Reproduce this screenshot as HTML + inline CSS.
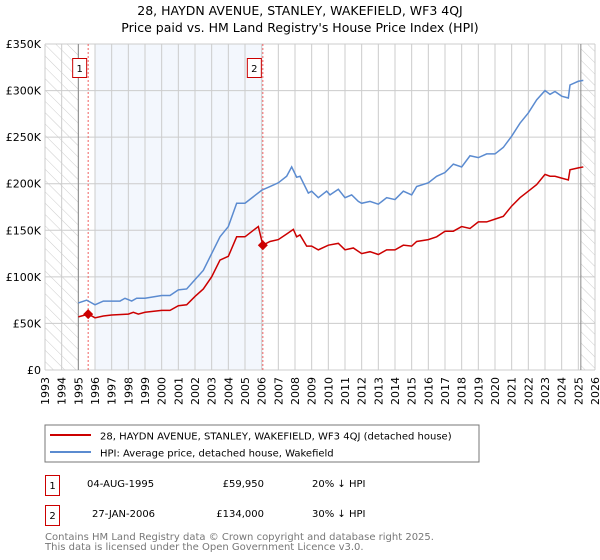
<!DOCTYPE html>
<html><head><meta charset="utf-8"><style>
body{margin:0;background:#fff;font-family:"DejaVu Sans","Liberation Sans",sans-serif;}
svg{display:block}
</style></head><body>
<svg id="c" width="600" height="560" font-family="DejaVu Sans, Liberation Sans, sans-serif">
<defs><pattern id="hatch" width="8" height="8" patternUnits="userSpaceOnUse" patternTransform="rotate(-45)"><line x1="0" y1="0" x2="0" y2="8" stroke="#ccc" stroke-width="1"/></pattern></defs>
<text x="300" y="15" text-anchor="middle" font-size="12.5" fill="#000">28, HAYDN AVENUE, STANLEY, WAKEFIELD, WF3 4QJ</text>
<text x="300" y="32" text-anchor="middle" font-size="12.5" fill="#000">Price paid vs. HM Land Registry's House Price Index (HPI)</text>
<g id="plot"></g>
<rect x="45" y="425" width="434" height="37" fill="#fff" stroke="#777"/>
<line x1="50" y1="435" x2="91" y2="435" stroke="#cc0000" stroke-width="2"/>
<text x="100" y="439.5" font-size="10">28, HAYDN AVENUE, STANLEY, WAKEFIELD, WF3 4QJ (detached house)</text>
<line x1="50" y1="452" x2="91" y2="452" stroke="#5b8bd0" stroke-width="2"/>
<text x="100" y="456.5" font-size="10">HPI: Average price, detached house, Wakefield</text>
<rect x="45.5" y="475.5" width="14" height="20" fill="#fff" stroke="#cc0000"/>
<text x="52.5" y="489" font-size="10" text-anchor="middle">1</text>
<text x="87" y="487" font-size="10">04-AUG-1995</text>
<text x="264" y="487" font-size="10" text-anchor="end">£59,950</text>
<text x="312" y="487" font-size="10">20% ↓ HPI</text>
<rect x="45.5" y="505.5" width="14" height="20" fill="#fff" stroke="#cc0000"/>
<text x="52.5" y="519" font-size="10" text-anchor="middle">2</text>
<text x="92" y="517" font-size="10">27-JAN-2006</text>
<text x="264" y="517" font-size="10" text-anchor="end">£134,000</text>
<text x="312" y="517" font-size="10">30% ↓ HPI</text>
<text x="45" y="540" font-size="10" fill="#777">Contains HM Land Registry data © Crown copyright and database right 2025.</text>
<text x="45" y="550" font-size="10" fill="#777">This data is licensed under the Open Government Licence v3.0.</text>
</svg>
<script>
const yTicks=[0,50,100,150,200,250,300,350];
const yTickLabels=["£0","£50K","£100K","£150K","£200K","£250K","£300K","£350K"];
const xYears=[1993,1994,1995,1996,1997,1998,1999,2000,2001,2002,2003,2004,2005,2006,2007,2008,2009,2010,2011,2012,2013,2014,2015,2016,2017,2018,2019,2020,2021,2022,2023,2024,2025,2026];
const hpiT=[1995.0,1995.5,1996.0,1996.5,1997.5,1997.8,1998.2,1998.5,1999,2000,2000.5,2001,2001.5,2002,2002.5,2003,2003.5,2004,2004.5,2005,2005.5,2006,2006.5,2007,2007.5,2007.8,2008.1,2008.3,2008.8,2009,2009.4,2009.9,2010.1,2010.6,2011,2011.4,2011.8,2012,2012.5,2013,2013.5,2014,2014.5,2015,2015.3,2016,2016.5,2017,2017.5,2018,2018.5,2019,2019.5,2020,2020.5,2021,2021.5,2022,2022.5,2023,2023.3,2023.6,2024,2024.4,2024.5,2025,2025.3];
const hpiV=[72,75,70,74,74,77,74,77,77,80,80,86,87,97,107,125,143,154,179,179,186,193,197,201,208,218,207,208,190,192,185,192,188,194,185,188,181,179,181,178,185,183,192,188,197,201,208,212,221,218,230,228,232,232,239,251,265,276,290,300,296,299,294,292,306,310,311];
const propT=[1995.0,1995.6,1996.0,1996.5,1997,1998,1998.3,1998.6,1999,2000,2000.5,2001,2001.5,2002,2002.5,2003,2003.5,2004,2004.5,2005,2005.5,2005.8,2006.07,2006.5,2007,2007.5,2007.9,2008.1,2008.3,2008.7,2009,2009.4,2010,2010.6,2011,2011.5,2012,2012.5,2013,2013.5,2014,2014.5,2015,2015.3,2016,2016.5,2017,2017.5,2018,2018.5,2019,2019.5,2020,2020.5,2021,2021.5,2022,2022.5,2023,2023.3,2023.6,2024,2024.4,2024.5,2025,2025.3];
const propV=[57,60,56,58,59,60,62,60,62,64,64,69,70,79,87,100,118,122,143,143,150,154,134,138,140,146,151,143,145,133,133,129,134,136,129,131,125,127,124,129,129,134,133,138,140,143,149,149,154,152,159,159,162,165,176,185,192,199,210,208,208,206,204,215,217,218];
const saleT=[1995.59,2006.07];
const saleV=[59.95,134];
const x0=45,x1=595,yTop=44,yBot=370;
function xs(t){return x0+(t-1993)/(2026-1993)*(x1-x0);}
function ys(v){return yBot-v/350*(yBot-yTop);}
const NS="http://www.w3.org/2000/svg";
const g=document.getElementById('plot');
function mk(tag,attrs,parent){const e=document.createElementNS(NS,tag);for(const k in attrs)e.setAttribute(k,attrs[k]);(parent||g).appendChild(e);return e;}
let e;
e=mk('rect',{x:xs(1996),y:yTop,width:xs(2006.07)-xs(1996),height:yBot-yTop,fill:'#eef3fc',opacity:0.7});


e=mk('rect',{x:x0,y:yTop,width:xs(1995)-x0,height:yBot-yTop,fill:'url(#hatch)'});


e=mk('rect',{x:xs(2025.15),y:yTop,width:x1-xs(2025.15),height:yBot-yTop,fill:'url(#hatch)'});


xYears.forEach((yr,i)=>{
  const x=xs(yr);
  e=mk('line',{x1:x,x2:x,y1:yTop,y2:yBot,stroke:'#ccc','stroke-width':1});
  
  
  e=mk('text',{x:0,y:0,'font-size':11,'text-anchor':'end',transform:`translate(${x+4},${yBot+7}) rotate(-90)`});
  e.textContent=yr;
  
  
});
yTicks.forEach((v,i)=>{
  const y=ys(v);
  e=mk('line',{x1:x0,x2:x1,y1:y,y2:y,stroke:'#ccc','stroke-width':1});
  
  
  e=mk('text',{x:x0-4,y:y+4,'font-size':11,'text-anchor':'end'});
  e.textContent=yTickLabels[i];
  
  
});
e=mk('line',{x1:xs(1995),x2:xs(1995),y1:yTop,y2:yBot,stroke:'#888'});


e=mk('line',{x1:xs(2025.15),x2:xs(2025.15),y1:yTop,y2:yBot,stroke:'#888'});


saleT.forEach((t,i)=>{
  e=mk('line',{x1:xs(t),x2:xs(t),y1:yTop,y2:yBot,stroke:'#f06060','stroke-dasharray':'2,2'});
  
  
  e=mk('rect',{x:xs(t)-15.5,y:58.5,width:14,height:19,fill:'#fff',stroke:'#cc0000'});
  
  
  e=mk('text',{x:xs(t)-8.5,y:72,'font-size':10,'text-anchor':'middle'});
  e.textContent=String(i+1);
  
  
});
e=mk('polyline',{points:hpiT.map((t,i)=>xs(t)+','+ys(hpiV[i])).join(' '),fill:'none',stroke:'#5b8bd0','stroke-width':1.5});


e=mk('polyline',{points:propT.map((t,i)=>xs(t)+','+ys(propV[i])).join(' '),fill:'none',stroke:'#cc0000','stroke-width':1.5});


saleT.forEach((t,i)=>{
  const x=xs(t),y=ys(saleV[i]);
  e=mk('polygon',{points:`${x},${y-5} ${x+5},${y} ${x},${y+5} ${x-5},${y}`,fill:'#cc0000'});
  
  
});
</script>
</body></html>
